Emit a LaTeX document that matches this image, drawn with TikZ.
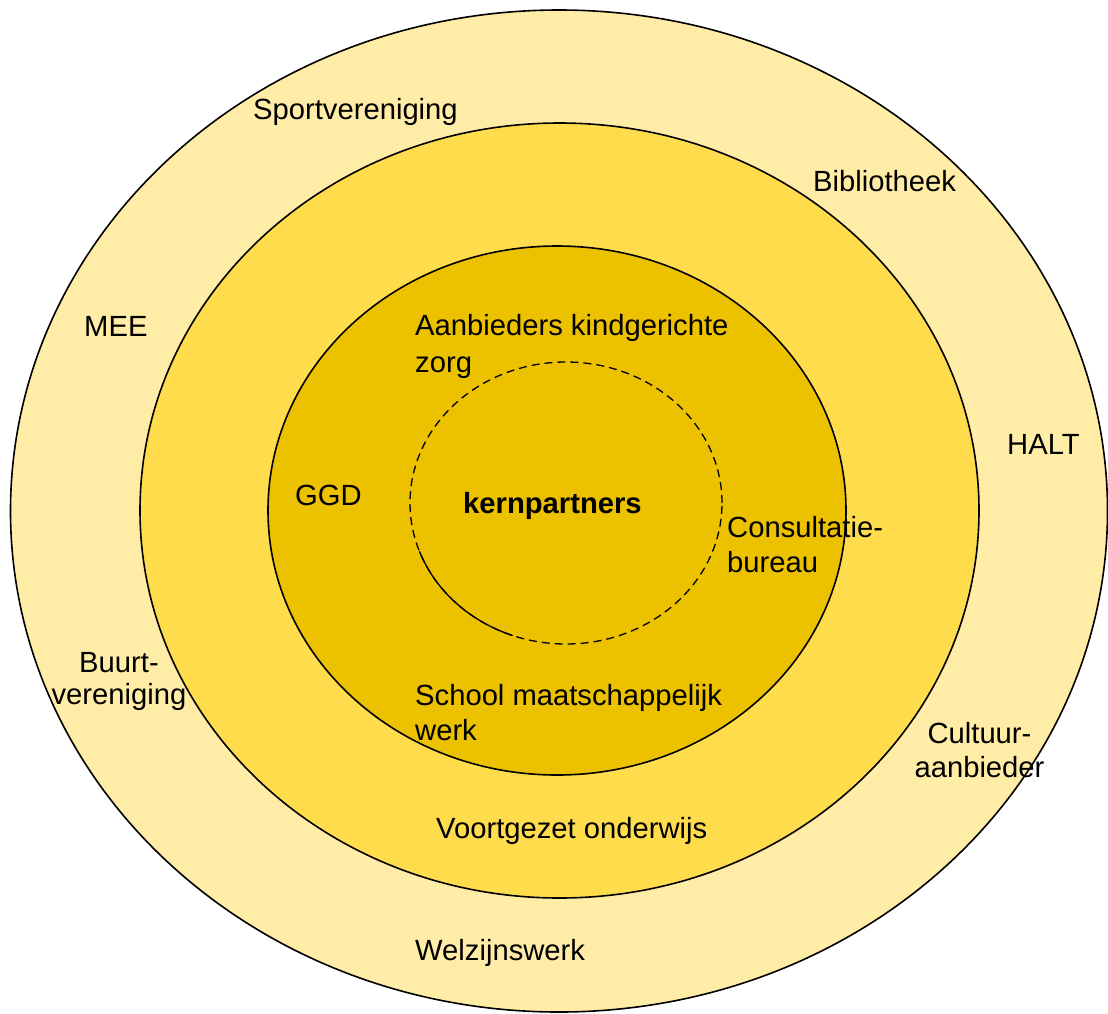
\documentclass[tikz,border=0pt]{standalone}
\usepackage{fontspec}
\setmainfont{Liberation Sans}
\usetikzlibrary{calc}
\definecolor{ringA}{RGB}{255,236,166}
\definecolor{ringB}{RGB}{255,220,75}
\definecolor{ringC}{RGB}{236,193,0}
\begin{document}
\begin{tikzpicture}[x=1pt,y=-1pt,
  ring/.style={draw=black,line width=1.6pt},
  lbl/.style={inner sep=0pt,font=\fontsize{29.2}{35}\selectfont},
  lblL/.style={lbl,anchor=base west,align=left},
  lblC/.style={lbl,anchor=base,align=center}]
\useasboundingbox (0,0) rectangle (1108,1013);
% rings
\path[ring,fill=ringA] (559,511) ellipse [x radius=548.5pt, y radius=501pt];
\path[ring,fill=ringB] (559.5,510.5) ellipse [x radius=419.5pt, y radius=387.5pt];
\path[ring,fill=ringC] (557,510.5) ellipse [x radius=289pt, y radius=264.5pt];
\draw[line width=1.3pt,dash pattern=on 8pt off 5pt] (566,503) ellipse [x radius=156pt, y radius=141pt];
\draw[line width=1.3pt] ($(566,503)+(200:156pt and 141pt)$) arc [start angle=200, end angle=250, x radius=156pt, y radius=141pt];
% labels (multi-line nodes: base = baseline of last line)
\node[lblL] (sport) at (253,119) {Sportvereniging};
\node[lblL] (bib) at (813,191) {Bibliotheek};
\node[lblL] (mee) at (84,336) {MEE};
\node[lblL] (aanb) at (415,372) {Aanbieders kindgerichte\\[2pt]zorg};
\node[lblL] (halt) at (1007,454) {HALT};
\node[lblL] (ggd) at (295,505) {GGD};
\node[lblL,font=\fontsize{29.2}{35}\selectfont\bfseries] (kern) at (463,513) {kernpartners};
\node[lblL] (cons) at (727,572) {Consultatie-\\bureau};
\node[lblC] (buurt) at (119,704) {Buurt-\\[-3pt]vereniging};
\node[lblL] (smw) at (415,740) {School maatschappelijk\\werk};
\node[lblC] (cult) at (979.5,777) {Cultuur-\\[-1pt]aanbieder};
\node[lblL] (vo) at (436,838) {Voortgezet onderwijs};
\node[lblL] (welz) at (415,960) {Welzijnswerk};
\end{tikzpicture}
\end{document}
